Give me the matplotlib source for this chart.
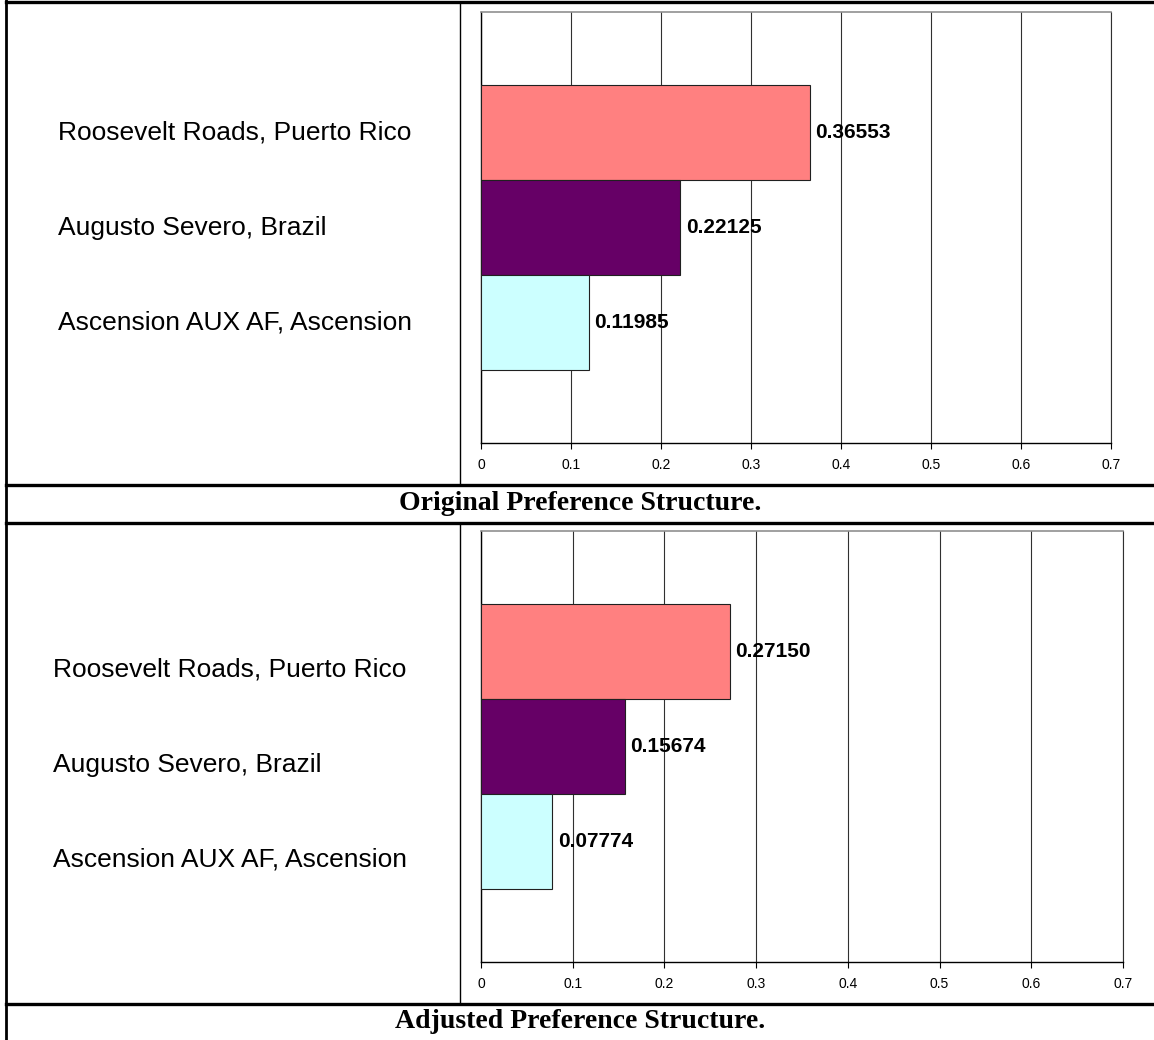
import matplotlib
matplotlib.use("Agg")
import matplotlib.pyplot as plt
from matplotlib.lines import Line2D

# data
categories = ["Roosevelt Roads, Puerto Rico", "Augusto Severo, Brazil", "Ascension AUX AF, Ascension"]
original = [0.36553, 0.22125, 0.11985]
adjusted = [0.27150, 0.15674, 0.07774]
bar_colors = ["#FF8080", "#660066", "#CCFFFF"]
xticks = [0, 0.1, 0.2, 0.3, 0.4, 0.5, 0.6, 0.7]
xtick_labels = ["0", "0.1", "0.2", "0.3", "0.4", "0.5", "0.6", "0.7"]
captions = ["Original Preference Structure.", "Adjusted Preference Structure."]

W, H = 1154, 1040
fig = plt.figure(figsize=(W / 100, H / 100), dpi=100)
fig.patch.set_facecolor("white")

narrow = ["Liberation Sans Narrow", "Liberation Sans", "DejaVu Sans"]
sans = ["Liberation Sans", "DejaVu Sans"]
serif = ["Liberation Serif", "DejaVu Serif"]


def panel(rect, values, label_x, label_dy):
    ax = fig.add_axes(rect)
    y = list(range(len(values)))
    ax.barh(y, values, height=1.0, color=bar_colors, edgecolor="#202020", linewidth=0.8, zorder=3)
    ax.set_xlim(0, 0.7)
    ax.set_ylim(3.268, -1.268)
    ax.set_xticks(xticks)
    ax.set_xticklabels(xtick_labels, family=narrow, fontsize=10)
    ax.set_yticks([])
    ax.tick_params(axis="x", direction="out", length=4, width=0.8, pad=7, color="black")
    ax.grid(axis="x", color="#303030", linewidth=0.8, zorder=1)
    for s in ["left", "bottom"]:
        ax.spines[s].set_color("black")
        ax.spines[s].set_linewidth(1.0)
    ax.spines["top"].set_color("#909090")
    ax.spines["top"].set_linewidth(1.2)
    ax.spines["right"].set_color("#303030")
    ax.spines["right"].set_linewidth(0.8)
    for i, v in enumerate(values):
        ax.annotate(f"{v:.5f}", (v, i), xytext=(4, 0), textcoords="offset points",
                    va="center", ha="left", fontsize=15, fontweight="bold", family=narrow, zorder=4)
    for i, c in enumerate(categories):
        ax.annotate(c, (label_x, i), xycoords=("figure fraction", "data"),
                    xytext=(0, label_dy), textcoords="offset points",
                    va="center", ha="left", fontsize=19, family=sans)
    return ax


panel([481 / W, 1 - 443 / H, (1111 - 481) / W, 431 / H], original, 58 / W, 0)
panel([481 / W, 1 - 962 / H, (1123 - 481) / W, 431 / H], adjusted, 53 / W, -13)

# table lines
def hline(ypx, lw=2.4):
    fig.add_artist(Line2D([6 / W, 1], [1 - ypx / H] * 2, color="black", linewidth=lw))

def vline(xpx, y0, y1, lw=2.0):
    fig.add_artist(Line2D([xpx / W] * 2, [1 - y0 / H, 1 - y1 / H], color="black", linewidth=lw))

hline(2)
hline(485)
hline(523)
hline(1004)
vline(6, 0, H)
vline(460, 2, 485, lw=1.0)
vline(460, 523, 1004, lw=1.0)

fig.text(580 / W, 1 - 504 / H, captions[0], ha="center", va="center",
         fontsize=20, fontweight="bold", family=serif)
fig.text(580 / W, 1 - 1022 / H, captions[1], ha="center", va="center",
         fontsize=20, fontweight="bold", family=serif)

fig.savefig("out.png", dpi=100, facecolor="white")
